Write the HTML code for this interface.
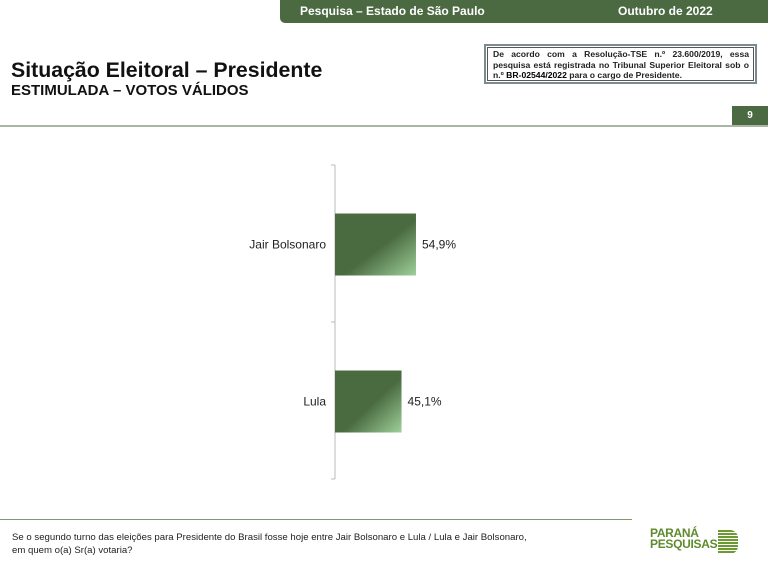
<!DOCTYPE html>
<html><head><meta charset="utf-8"><style>
body{margin:0;width:768px;height:573px;background:#fff;font-family:"Liberation Sans",sans-serif;position:relative;overflow:hidden}
.a{position:absolute}
</style></head><body>
<div class="a" style="left:280px;top:0;width:488px;height:23px;background:#4b6a42;border-bottom-left-radius:5px"></div>
<div class="a" style="left:300px;top:4px;color:#fff;font-weight:bold;font-size:12px">Pesquisa – Estado de São Paulo</div>
<div class="a" style="left:618px;top:4px;color:#fff;font-weight:bold;font-size:12px">Outubro de 2022</div>
<div class="a" style="left:11px;top:58px;font-weight:bold;font-size:21.3px;color:#111">Situação Eleitoral – Presidente</div>
<div class="a" style="left:11px;top:82px;font-weight:bold;font-size:15px;color:#111">ESTIMULADA – VOTOS VÁLIDOS</div>
<div class="a" style="left:484px;top:44px;width:256px;height:33px;border:2px solid #7a8a90;box-shadow:inset 0 0 0 1px #fff,inset 0 0 0 2px #555;padding:3px 6px 0 7px;font-size:8.6px;font-weight:bold;line-height:10.5px;text-align:justify;color:#222">De acordo com a Resolução-TSE n.º 23.600/2019, essa pesquisa está registrada no Tribunal Superior Eleitoral sob o n.º <span style="color:#000">BR-02544/2022</span> para o cargo de Presidente.</div>
<div class="a" style="left:732px;top:106px;width:36px;height:19px;background:#4b6a42;color:#fff;font-weight:bold;font-size:10px;text-align:center;line-height:19px">9</div>
<div class="a" style="left:0;top:125px;width:768px;height:2px;background:#a9b7a2"></div>
<svg class="a" style="left:0;top:0" width="768" height="573">
<defs><linearGradient id="g" x1="0" y1="0" x2="1" y2="1"><stop offset="0" stop-color="#4a6b40"/><stop offset="0.55" stop-color="#4a6b40"/><stop offset="1" stop-color="#9fd09a"/></linearGradient></defs>
<g id="chart"></g>
</svg>
<div class="a" style="left:0;top:519px;width:632px;height:1px;background:#7f9a72"></div>
<div class="a" style="left:12px;top:531px;font-size:9.6px;line-height:13px;color:#222">Se o segundo turno das eleições para Presidente do Brasil fosse hoje entre Jair Bolsonaro e Lula / Lula e Jair Bolsonaro,<br>em quem o(a) Sr(a) votaria?</div>
<div class="a" style="left:650px;top:528px;width:90px;height:30px">
<div style="position:absolute;left:0;top:0;font-weight:bold;font-size:12px;line-height:11px;color:#5f8a2e;letter-spacing:-0.3px">PARANÁ<br>PESQUISAS</div>
<div style="position:absolute;left:68px;top:2px;width:20px;height:24px;background:repeating-linear-gradient(#6a9a30 0 2px,#fff 2px 3px);border-radius:0 8px 8px 0"></div>
</div>
<script>
const categories=["Jair Bolsonaro","Lula"];
const values=[54.9,45.1];
const labels=["54,9%","45,1%"];
const ns="http://www.w3.org/2000/svg";
const g=document.getElementById('chart');
const x0=335,scale=1.475,top0=165,bandH=157,barH=62;
const xs=v=>x0+v*scale;
function mk(t,a){const e=document.createElementNS(ns,t);for(const k in a)e.setAttribute(k,a[k]);g.appendChild(e);return e;}
const ax=mk('line',{x1:x0,y1:top0,x2:x0,y2:top0+2*bandH,stroke:'#bbb','stroke-width':1});


for(let i=0;i<=2;i++){const t=mk('line',{x1:x0-4,x2:x0,y1:top0+i*bandH,y2:top0+i*bandH,stroke:'#bbb'});

}
categories.forEach((c,i)=>{
const cy=top0+i*bandH+bandH/2+1;
const r=mk('rect',{x:x0,y:cy-barH/2,width:xs(values[i])-x0,height:barH,fill:'url(#g)'});


const l=mk('text',{x:x0-9,y:cy+4,'text-anchor':'end','font-size':12,fill:'#222'});l.textContent=c;


const v=mk('text',{x:xs(values[i])+6,y:cy+4,'font-size':12,fill:'#222'});v.textContent=labels[i];


});
</script>
</body></html>
